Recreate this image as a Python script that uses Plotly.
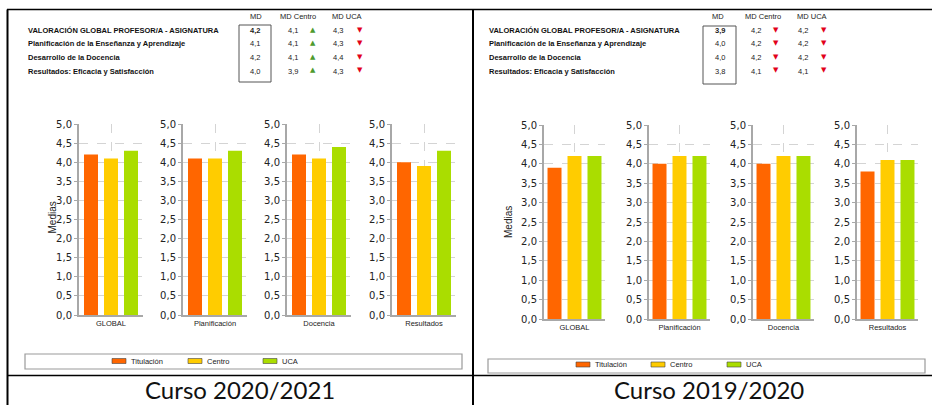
import plotly.graph_objects as go

W, H = 932, 405

categorias = ["GLOBAL", "Planificación", "Docencia", "Resultados"]
filas = ["VALORACIÓN GLOBAL PROFESOR/A - ASIGNATURA",
         "Planificación de la Enseñanza y Aprendizaje",
         "Desarrollo de la Docencia",
         "Resultados: Eficacia y Satisfacción"]
series = ["Titulación", "Centro", "UCA"]
cabeceras = ["MD", "MD Centro", "MD UCA"]
cursos = ["Curso 2020/2021", "Curso 2019/2020"]

titulacion_2021 = [4.2, 4.1, 4.2, 4.0]
centro_2021 = [4.1, 4.1, 4.1, 3.9]
uca_2021 = [4.3, 4.3, 4.4, 4.3]

titulacion_1920 = [3.9, 4.0, 4.0, 3.8]
centro_1920 = [4.2, 4.2, 4.2, 4.1]
uca_1920 = [4.2, 4.2, 4.2, 4.1]

colores = ["#FF6600", "#FFCC00", "#AADD00"]

def X(p):
    return p / W

def Y(p):
    return 1 - p / H

def fmt(v):
    return f"{v:.1f}".replace(".", ",")

paneles = [
    dict(data=[titulacion_2021, centro_2021, uca_2021],
         axes=[79, 183, 287, 392], half=32, xr=0.5, ytop=124, ybot=315,
         label_x=26, md_x=255, cen_x=293, cen_tri=313, uca_x=338, uca_tri=360,
         box=(239, 25, 271, 82), head_x=[256, 298, 347], head_y=16,
         medias=(44, 218), legbox=(25, 354, 462, 369),
         legsw=[112, 188, 263], legy=361, caption_x=240),
    dict(data=[titulacion_1920, centro_1920, uca_1920],
         axes=[544, 649, 753, 857], half=30.5, xr=0.477, ytop=125, ybot=319,
         label_x=487, md_x=720, cen_x=756, cen_tri=776, uca_x=803, uca_tri=824,
         box=(703, 26, 736, 84), head_x=[718, 763, 812], head_y=17,
         medias=(508, 222), legbox=(488, 359, 925, 373),
         legsw=[576, 651, 727], legy=364.5, caption_x=709),
]
row_y = [30.3, 43.8, 57.3, 71]

fig = go.Figure()
layout = {}
annotations = []
shapes = []
FONT = "Liberation Sans, Arial, sans-serif"

k = 0
for p in paneles:
    for i, cat in enumerate(categorias):
        k += 1
        xa = "x" if k == 1 else f"x{k}"
        ya = "y" if k == 1 else f"y{k}"
        for s, name in enumerate(series):
            fig.add_trace(go.Bar(x=[cat], y=[p["data"][s][i]], name=name,
                                 marker=dict(color=colores[s], line=dict(width=0)),
                                 xaxis=xa, yaxis=ya, showlegend=False))
        a = p["axes"][i]
        layout[f"xaxis{k}"] = dict(
            domain=[X(a), X(a + 2 * p["half"])], anchor=ya, type="category",
            range=[-p["xr"], p["xr"]], showgrid=True, gridcolor="#d4d4d4",
            griddash="dash", gridwidth=1, showline=True, linecolor="#a8a8a8",
            linewidth=1.5, ticks="", tickfont=dict(size=7.5, family=FONT, color="#222"),
            automargin=False, fixedrange=True)
        layout[f"yaxis{k}"] = dict(
            domain=[Y(p["ybot"]), Y(p["ytop"])], anchor=xa, range=[0, 5],
            dtick=0.5, tick0=0, tickformat=".1f", showgrid=True, gridcolor="#d4d4d4",
            griddash="dash", gridwidth=1, showline=True, linecolor="#a8a8a8",
            linewidth=2, ticks="outside", ticklen=3, tickcolor="#a8a8a8",
            tickfont=dict(size=10, family="DejaVu Sans, sans-serif", color="#222"),
            zeroline=False, automargin=False, fixedrange=True)

    annotations.append(dict(x=X(p["medias"][0]), y=Y(p["medias"][1]), text="Medias",
                            textangle=-90, showarrow=False, xref="paper", yref="paper",
                            font=dict(size=10, family=FONT, color="#222")))
    for hx, htxt in zip(p["head_x"], cabeceras):
        annotations.append(dict(x=X(hx), y=Y(p["head_y"]), text=htxt, showarrow=False,
                                xref="paper", yref="paper", xanchor="center", yanchor="middle",
                                font=dict(size=7.5, family=FONT, color="#222")))
    md, cen, uca = p["data"]
    for r, fila in enumerate(filas):
        yy = Y(row_y[r])
        annotations.append(dict(x=X(p["label_x"]), y=yy, text=f"<b>{fila}</b>", showarrow=False,
                                xref="paper", yref="paper", xanchor="left", yanchor="middle",
                                font=dict(size=7.5, family=FONT, color="#111")))
        mdtxt = f"<b>{fmt(md[r])}</b>" if r == 0 else fmt(md[r])
        annotations.append(dict(x=X(p["md_x"]), y=yy, text=mdtxt, showarrow=False,
                                xref="paper", yref="paper", xanchor="center", yanchor="middle",
                                font=dict(size=7.5, family=FONT, color="#222")))
        for vx, tx, ref in [(p["cen_x"], p["cen_tri"], cen[r]), (p["uca_x"], p["uca_tri"], uca[r])]:
            annotations.append(dict(x=X(vx), y=yy, text=fmt(ref), showarrow=False,
                                    xref="paper", yref="paper", xanchor="center", yanchor="middle",
                                    font=dict(size=7.5, family=FONT, color="#222")))
            up = md[r] >= ref
            annotations.append(dict(x=X(tx), y=Y(row_y[r] - 0.5), text="▲" if up else "▼",
                                    showarrow=False, xref="paper", yref="paper",
                                    xanchor="center", yanchor="middle",
                                    font=dict(size=7, family="DejaVu Sans", color="#4E9A2E" if up else "#E2001A")))
    bx0, by0, bx1, by1 = p["box"]
    shapes.append(dict(type="rect", xref="paper", yref="paper", x0=X(bx0), x1=X(bx1),
                       y0=Y(by1), y1=Y(by0), line=dict(color="#555", width=1)))
    lx0, ly0, lx1, ly1 = p["legbox"]
    shapes.append(dict(type="rect", xref="paper", yref="paper", x0=X(lx0), x1=X(lx1),
                       y0=Y(ly1), y1=Y(ly0), line=dict(color="#9a9a9a", width=1.2),
                       fillcolor="white"))
    for s, name in enumerate(series):
        sx = p["legsw"][s]
        shapes.append(dict(type="rect", xref="paper", yref="paper", x0=X(sx), x1=X(sx + 14),
                           y0=Y(p["legy"] + 2.5), y1=Y(p["legy"] - 2.5),
                           line=dict(color="#444", width=0.6), fillcolor=colores[s]))
        annotations.append(dict(x=X(sx + 17), y=Y(p["legy"]), text=name, showarrow=False,
                                xref="paper", yref="paper", xanchor="left", yanchor="middle",
                                font=dict(size=7.5, family=FONT, color="#222")))

for p, c in zip(paneles, cursos):
    annotations.append(dict(x=X(p["caption_x"]), y=0.0, text=c, showarrow=False,
                            xref="paper", yref="paper", xanchor="center", yanchor="bottom",
                            borderpad=0,
                            font=dict(size=24, family="Lato, sans-serif", color="#111")))

frame = [
    (7.5, 9.5, 7.5, 405, 2),
    (7, 9.5, 932, 9.5, 1.5),
    (473, 10, 473, 405, 2),
    (7, 375.5, 932, 375.5, 1.5),
]
for x0, y0, x1, y1, w in frame:
    shapes.append(dict(type="line", xref="paper", yref="paper", x0=X(x0), y0=Y(y0),
                       x1=X(x1), y1=Y(y1), line=dict(color="#000", width=w)))

fig.update_layout(
    template="none",
    width=W, height=H, autosize=False,
    margin=dict(l=0, r=0, t=0, b=0, pad=0, autoexpand=False),
    paper_bgcolor="white", plot_bgcolor="white",
    barmode="group", bargap=0.0625, bargroupgap=0.3,
    separators=",.",
    showlegend=False,
    annotations=annotations, shapes=shapes,
    **layout,
)

fig.write_html("out.html", config={"displayModeBar": False},
               post_script="document.body.style.margin='0';document.body.style.overflow='hidden';")
